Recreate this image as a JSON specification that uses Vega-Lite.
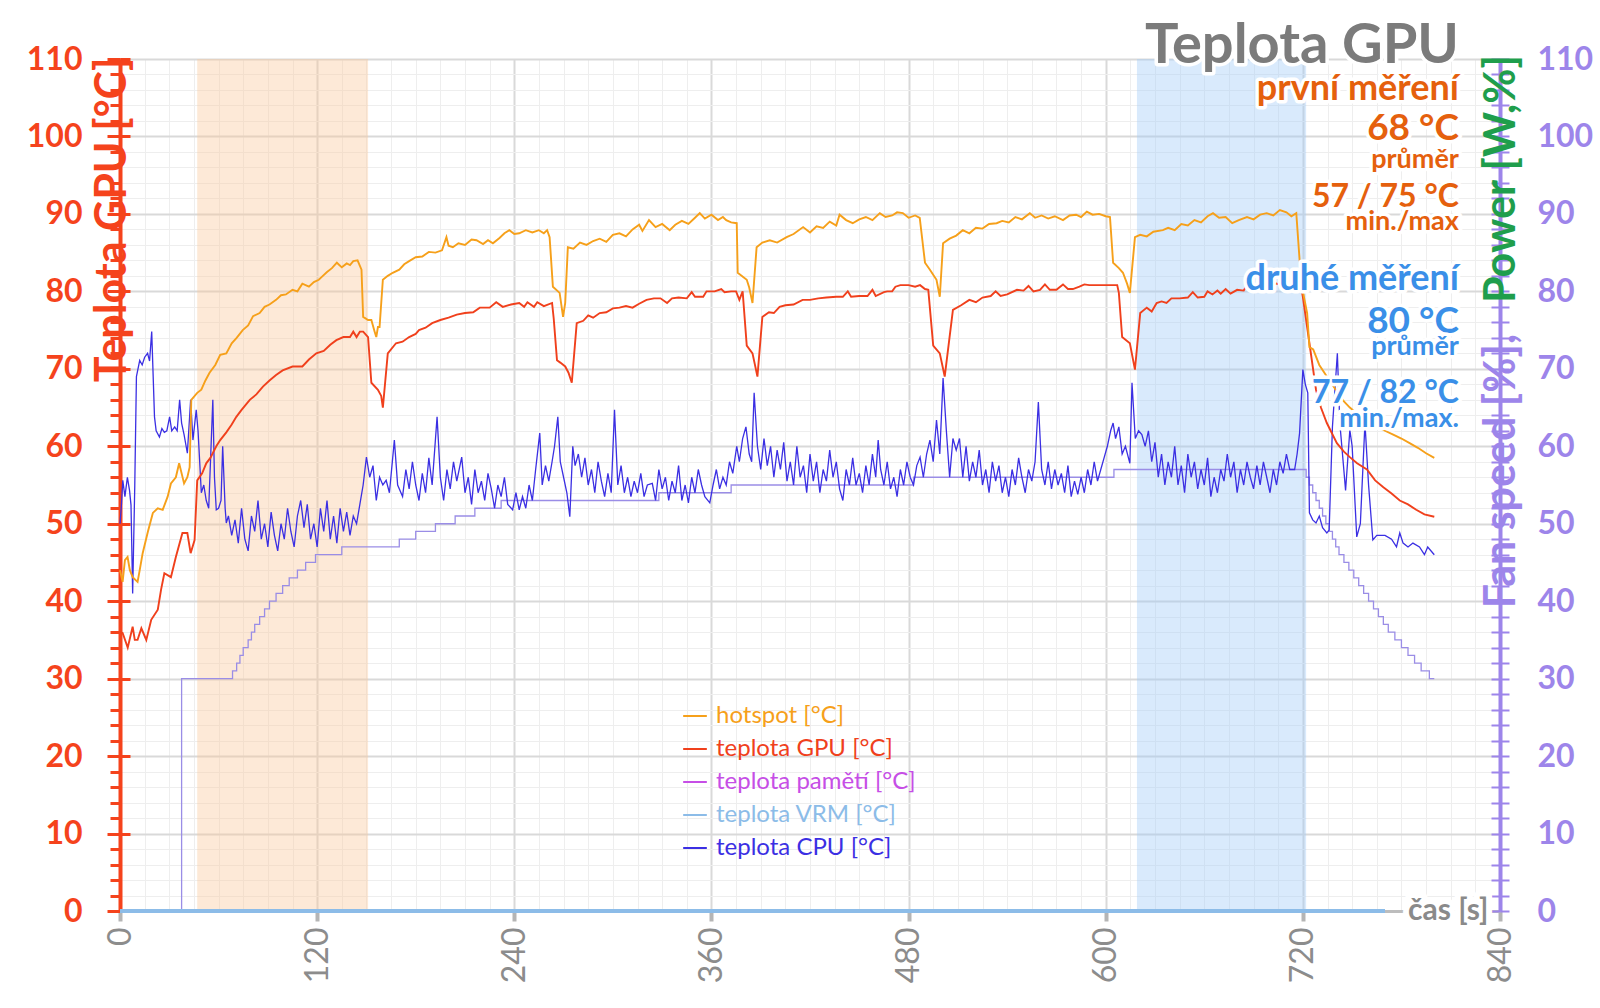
{
  "$schema": "https://vega.github.io/schema/vega-lite/v6.json",
  "width": 1380,
  "height": 852,
  "autosize": {"type": "none"},
  "padding": {"left": 120, "top": 59, "right": 100, "bottom": 97},
  "background": "white",
  "config": {
    "view": {"stroke": null},
    "font": "Lato",
    "text": {"align": "right", "baseline": "alphabetic", "font": "Lato", "fontWeight": "bold"},
    "style": {"halo": {"fill": "white", "stroke": "white", "strokeWidth": 7, "strokeJoin": "round"}}
  },
  "datasets": {
    "bands": [
      {"start": 47, "end": 151, "band": "první měření"},
      {"start": 619, "end": 722, "band": "druhé měření"}
    ],
    "hotspot": [
      {"t":0,"v":44},{"t":1.6,"v":42.5},{"t":3,"v":45.3},{"t":4.6,"v":45.7},{"t":6,"v":44},{"t":7.7,"v":43.1},{"t":10.7,"v":42.5},{"t":12,"v":44},{"t":13.8,"v":46.2},{"t":17,"v":49},{"t":20,"v":51.4},{"t":23,"v":52},{"t":26,"v":51.8},{"t":29,"v":53.5},{"t":31,"v":55.2},{"t":34,"v":56},{"t":36,"v":57.8},{"t":39,"v":55.2},{"t":41,"v":56},{"t":42.4,"v":57.3},{"t":43.4,"v":66},{"t":47,"v":66.9},{"t":49.5,"v":67.3},{"t":52,"v":68.5},{"t":54.5,"v":69.5},{"t":58,"v":70.5},{"t":61,"v":71.8},{"t":64.7,"v":72},{"t":68,"v":73.3},{"t":71,"v":74},{"t":74.7,"v":75},{"t":78,"v":75.6},{"t":81,"v":76.8},{"t":85,"v":77.2},{"t":88,"v":78},{"t":91,"v":78.3},{"t":95,"v":78.9},{"t":98,"v":79.5},{"t":101,"v":79.6},{"t":105,"v":80.2},{"t":108,"v":80},{"t":111,"v":81},{"t":115,"v":80.6},{"t":118,"v":81.2},{"t":121,"v":81.5},{"t":123,"v":81.9},{"t":126,"v":82.5},{"t":129,"v":83},{"t":132,"v":83.7},{"t":135,"v":83.1},{"t":138,"v":83.6},{"t":140,"v":83.4},{"t":142,"v":83.9},{"t":144.6,"v":84},{"t":147,"v":82.8},{"t":148,"v":76.7},{"t":151,"v":76.3},{"t":153,"v":76.3},{"t":155,"v":74.8},{"t":156,"v":74.1},{"t":157,"v":75.4},{"t":158,"v":75.4},{"t":160,"v":81.5},{"t":163,"v":82},{"t":166,"v":82.4},{"t":170,"v":82.8},{"t":173,"v":83.5},{"t":176,"v":83.9},{"t":180,"v":84.4},{"t":184,"v":84.5},{"t":188,"v":85.1},{"t":192,"v":85},{"t":196,"v":85.3},{"t":198.7,"v":87},{"t":200,"v":85.9},{"t":202.6,"v":85.7},{"t":206,"v":86.2},{"t":210,"v":86},{"t":214,"v":86.7},{"t":217,"v":86.6},{"t":221,"v":86.1},{"t":224,"v":86.6},{"t":227,"v":86.2},{"t":231,"v":86.9},{"t":234,"v":87.5},{"t":237,"v":87.9},{"t":240,"v":87.4},{"t":243,"v":87.5},{"t":247,"v":87.9},{"t":251,"v":87.6},{"t":255,"v":87.9},{"t":258,"v":87.5},{"t":260,"v":87.9},{"t":261.5,"v":87},{"t":263.5,"v":80.6},{"t":267.6,"v":79.8},{"t":269.7,"v":76.7},{"t":271,"v":78.5},{"t":272.6,"v":85.7},{"t":276,"v":85.5},{"t":280,"v":86.3},{"t":284,"v":86},{"t":288,"v":86.5},{"t":292,"v":86.8},{"t":296,"v":86.4},{"t":300,"v":87.3},{"t":304,"v":87.5},{"t":308,"v":87.1},{"t":312,"v":88},{"t":316,"v":88.6},{"t":318,"v":87.8},{"t":322,"v":89.2},{"t":326,"v":88.3},{"t":330,"v":88.7},{"t":334.6,"v":87.9},{"t":338,"v":88.6},{"t":342,"v":89.1},{"t":346,"v":88.7},{"t":350,"v":89.5},{"t":352.9,"v":90.1},{"t":356,"v":89.4},{"t":360,"v":89.9},{"t":364,"v":89.2},{"t":367,"v":89.6},{"t":369,"v":89.2},{"t":372,"v":88.9},{"t":375.4,"v":88.8},{"t":376,"v":82.4},{"t":381.5,"v":81.5},{"t":383,"v":80.5},{"t":385,"v":78.5},{"t":387.5,"v":85.7},{"t":391,"v":86.3},{"t":395.5,"v":86.6},{"t":400,"v":86.3},{"t":405.8,"v":87},{"t":410,"v":87.4},{"t":415.8,"v":88.3},{"t":420,"v":87.6},{"t":424,"v":88.4},{"t":428,"v":88.2},{"t":432,"v":89},{"t":436,"v":88.5},{"t":438,"v":89.9},{"t":442,"v":89.2},{"t":446,"v":88.8},{"t":450,"v":89.3},{"t":454,"v":89.6},{"t":458,"v":89.2},{"t":462.5,"v":90.1},{"t":466,"v":89.6},{"t":470,"v":89.8},{"t":473,"v":90.2},{"t":476.5,"v":90.1},{"t":480,"v":89.5},{"t":484,"v":89.8},{"t":486.8,"v":89.5},{"t":490,"v":83.7},{"t":493,"v":82.8},{"t":497,"v":81.5},{"t":499,"v":79.3},{"t":501,"v":86.2},{"t":505,"v":86.8},{"t":509,"v":87.2},{"t":513,"v":87.9},{"t":517,"v":87.5},{"t":521,"v":88.2},{"t":525,"v":88.1},{"t":529,"v":88.7},{"t":533.6,"v":88.8},{"t":537,"v":89.1},{"t":541,"v":88.9},{"t":545,"v":89.6},{"t":549,"v":89.3},{"t":553.8,"v":90.1},{"t":557,"v":89.5},{"t":561,"v":89.8},{"t":565,"v":89.4},{"t":569,"v":89.7},{"t":574,"v":89.2},{"t":578,"v":89.8},{"t":582,"v":89.9},{"t":585,"v":89.6},{"t":588.5,"v":90.3},{"t":592,"v":89.9},{"t":596,"v":90},{"t":600,"v":89.7},{"t":602.6,"v":89.6},{"t":604.5,"v":83.7},{"t":608,"v":83},{"t":610.5,"v":82.4},{"t":613,"v":81},{"t":614.7,"v":79.8},{"t":617.8,"v":87},{"t":621,"v":87.3},{"t":625,"v":87.1},{"t":629,"v":87.7},{"t":634.8,"v":87.9},{"t":638,"v":88.2},{"t":642,"v":87.9},{"t":646,"v":88.7},{"t":650,"v":88.5},{"t":654,"v":89.2},{"t":658,"v":88.9},{"t":662,"v":89.7},{"t":665.3,"v":90.1},{"t":669,"v":89.5},{"t":673,"v":89.6},{"t":677,"v":88.8},{"t":681,"v":89.2},{"t":686,"v":89.6},{"t":690,"v":89.3},{"t":694,"v":89.9},{"t":698,"v":90.1},{"t":702,"v":89.8},{"t":706,"v":90.5},{"t":710,"v":90.2},{"t":713,"v":89.7},{"t":716,"v":90.1},{"t":718,"v":84.1},{"t":720,"v":80},{"t":722.6,"v":77.2},{"t":724,"v":72.8},{"t":726.3,"v":72.5},{"t":730,"v":70.5},{"t":734.6,"v":69},{"t":740,"v":67.3},{"t":745,"v":65.8},{"t":748.6,"v":65},{"t":754,"v":64},{"t":760,"v":63.2},{"t":765,"v":62.5},{"t":769,"v":62.1},{"t":775,"v":61.5},{"t":780,"v":61},{"t":785,"v":60.4},{"t":790,"v":59.8},{"t":795,"v":59.1},{"t":800,"v":58.5}
    ],
    "gpu": [
      {"t":0,"v":36},{"t":1.6,"v":35.9},{"t":4.7,"v":34},{"t":7.7,"v":36.7},{"t":9,"v":35},{"t":10.7,"v":35},{"t":13,"v":36.5},{"t":16,"v":35},{"t":19,"v":37.6},{"t":23,"v":38.9},{"t":25,"v":41.5},{"t":27,"v":43.6},{"t":31,"v":43.1},{"t":34,"v":45.7},{"t":38,"v":48.8},{"t":41,"v":48.8},{"t":43,"v":46.2},{"t":45.4,"v":47.9},{"t":47,"v":55.6},{"t":50,"v":56.5},{"t":52.5,"v":57.8},{"t":55,"v":58.5},{"t":58.6,"v":60},{"t":61,"v":60.8},{"t":64.7,"v":61.8},{"t":68,"v":62.8},{"t":70.8,"v":63.8},{"t":74,"v":64.7},{"t":79,"v":66},{"t":83,"v":66.7},{"t":87,"v":67.7},{"t":91,"v":68.5},{"t":95,"v":69.2},{"t":99,"v":69.8},{"t":105,"v":70.3},{"t":111,"v":70.3},{"t":115,"v":71.2},{"t":119.5,"v":72},{"t":124,"v":72.3},{"t":128,"v":73.1},{"t":131.7,"v":73.7},{"t":136,"v":74.1},{"t":140,"v":74.1},{"t":142,"v":74.8},{"t":144,"v":74.1},{"t":146,"v":74.8},{"t":148,"v":74.8},{"t":151,"v":74.1},{"t":153,"v":68.2},{"t":157,"v":67.3},{"t":159,"v":66.5},{"t":160,"v":65},{"t":163,"v":72},{"t":168,"v":73.3},{"t":172,"v":73.5},{"t":176,"v":74.1},{"t":180,"v":74.5},{"t":182,"v":75},{"t":186,"v":75.3},{"t":190,"v":75.9},{"t":195,"v":76.3},{"t":200,"v":76.6},{"t":205,"v":77},{"t":210,"v":77.2},{"t":215,"v":77.3},{"t":219,"v":77.9},{"t":225,"v":77.9},{"t":229,"v":78.6},{"t":233,"v":78},{"t":238,"v":78.3},{"t":243,"v":78.5},{"t":246,"v":78},{"t":248,"v":78.6},{"t":252,"v":78},{"t":254,"v":78.6},{"t":258,"v":78.1},{"t":263,"v":78.5},{"t":264,"v":76.5},{"t":266,"v":71.1},{"t":268,"v":70.8},{"t":271,"v":70.3},{"t":273,"v":69.5},{"t":275,"v":68.2},{"t":278,"v":75.9},{"t":282,"v":76.2},{"t":285,"v":76.9},{"t":288,"v":76.6},{"t":292,"v":77.2},{"t":296,"v":77.3},{"t":300,"v":77.8},{"t":304,"v":77.9},{"t":308,"v":78.1},{"t":312,"v":77.9},{"t":316,"v":78.4},{"t":320.5,"v":78.9},{"t":325,"v":79.1},{"t":329,"v":79.1},{"t":333,"v":78.5},{"t":336,"v":79.1},{"t":340,"v":79.2},{"t":345,"v":79.1},{"t":348,"v":79.9},{"t":350,"v":79.3},{"t":355,"v":79.3},{"t":357,"v":80},{"t":362,"v":80},{"t":366,"v":80.3},{"t":368,"v":79.9},{"t":372,"v":80},{"t":375,"v":80},{"t":377,"v":78.9},{"t":379,"v":80},{"t":381.5,"v":73},{"t":385,"v":72},{"t":388,"v":69},{"t":391,"v":76.7},{"t":395,"v":77.3},{"t":398,"v":77.2},{"t":401.5,"v":78},{"t":405,"v":78.2},{"t":410,"v":78.3},{"t":415.5,"v":78.9},{"t":420,"v":78.9},{"t":425,"v":79.1},{"t":430,"v":79.2},{"t":436,"v":79.3},{"t":440,"v":79.3},{"t":443,"v":80},{"t":445,"v":79.3},{"t":450,"v":79.4},{"t":455,"v":79.4},{"t":458,"v":80.2},{"t":460,"v":79.4},{"t":465,"v":79.9},{"t":467,"v":80},{"t":470,"v":80},{"t":472,"v":80.6},{"t":475,"v":80.8},{"t":480,"v":80.8},{"t":484,"v":80.6},{"t":487,"v":80.8},{"t":490,"v":80.3},{"t":492,"v":80.2},{"t":495,"v":73},{"t":499,"v":72},{"t":502,"v":69},{"t":507,"v":77.6},{"t":512,"v":78.2},{"t":517,"v":78.9},{"t":521,"v":78.6},{"t":525,"v":79.2},{"t":530,"v":79.4},{"t":533,"v":80},{"t":536,"v":79.4},{"t":540,"v":79.6},{"t":546,"v":80.2},{"t":550,"v":80.1},{"t":553,"v":80.7},{"t":556,"v":80},{"t":560,"v":80.2},{"t":563,"v":80.9},{"t":566,"v":80.2},{"t":570,"v":80.2},{"t":574,"v":80.9},{"t":577,"v":80.3},{"t":580,"v":80.3},{"t":584,"v":80.6},{"t":587,"v":80.9},{"t":590,"v":80.8},{"t":595,"v":80.8},{"t":600,"v":80.8},{"t":607,"v":80.8},{"t":608,"v":79.8},{"t":610,"v":74.1},{"t":614.7,"v":73.3},{"t":617.8,"v":69.9},{"t":621,"v":77.2},{"t":625,"v":77.9},{"t":628,"v":77.4},{"t":631,"v":78.5},{"t":634,"v":78.7},{"t":637,"v":78.5},{"t":640,"v":79.1},{"t":645,"v":79.1},{"t":650,"v":79.2},{"t":653,"v":79.9},{"t":656,"v":79.2},{"t":660,"v":79.3},{"t":662,"v":80},{"t":665,"v":79.6},{"t":668,"v":80.1},{"t":670,"v":79.7},{"t":673,"v":80.3},{"t":676,"v":79.7},{"t":680,"v":80.2},{"t":684,"v":80.1},{"t":686,"v":80.8},{"t":690,"v":80.5},{"t":694,"v":80.8},{"t":697,"v":80.4},{"t":700,"v":80.7},{"t":704,"v":81},{"t":708,"v":80.7},{"t":712,"v":80.9},{"t":716,"v":80.6},{"t":719,"v":80.5},{"t":720,"v":79.3},{"t":724,"v":73.3},{"t":728,"v":67.3},{"t":731,"v":65},{"t":734.6,"v":63},{"t":740.7,"v":60.4},{"t":745,"v":59.3},{"t":748.6,"v":58.6},{"t":753,"v":57.8},{"t":759,"v":57},{"t":764,"v":55.6},{"t":769,"v":54.7},{"t":774,"v":53.9},{"t":779,"v":53},{"t":784,"v":52.5},{"t":789,"v":51.8},{"t":794,"v":51.2},{"t":800,"v":50.9}
    ],
    "cpu": [
      {"t":0,"v":50},{"t":0.8,"v":52.2},{"t":1.7,"v":55.6},{"t":3,"v":53.5},{"t":4.5,"v":56},{"t":5.8,"v":54.3},{"t":6.7,"v":52.4},{"t":7.7,"v":41},{"t":9,"v":55},{"t":10,"v":69},{"t":12,"v":71.1},{"t":13.5,"v":70.5},{"t":15,"v":71.5},{"t":16.8,"v":72},{"t":18,"v":71},{"t":19.3,"v":74.8},{"t":21,"v":63.8},{"t":22,"v":62},{"t":24,"v":61.2},{"t":25.5,"v":62.3},{"t":27,"v":61.8},{"t":28.5,"v":62},{"t":30.2,"v":63.8},{"t":31.5,"v":62},{"t":33.3,"v":62.5},{"t":34.8,"v":62},{"t":36.3,"v":66},{"t":37.5,"v":63},{"t":39,"v":61.5},{"t":41,"v":59.1},{"t":43,"v":66},{"t":44.4,"v":60.8},{"t":46.4,"v":64.7},{"t":47.5,"v":62},{"t":49.5,"v":54},{"t":51,"v":55},{"t":52.5,"v":53},{"t":54,"v":52},{"t":56.5,"v":66},{"t":57.5,"v":56},{"t":58.6,"v":51.8},{"t":60,"v":52},{"t":61.5,"v":53},{"t":62.5,"v":60},{"t":64,"v":52},{"t":64.7,"v":50.1},
      {"t":66,"v":51},{"t":68,"v":48.5},{"t":70,"v":50.5},{"t":72,"v":47.5},{"t":74,"v":52},{"t":76,"v":48},{"t":78,"v":46.5},{"t":80,"v":51},{"t":82,"v":49},{"t":84,"v":53},{"t":86,"v":48},{"t":88,"v":50},{"t":90,"v":47},{"t":92,"v":51.5},{"t":94,"v":48.5},{"t":96,"v":46.5},{"t":98,"v":50},{"t":100,"v":48},{"t":102,"v":52},{"t":104,"v":49},{"t":106,"v":47},{"t":108,"v":51},{"t":110,"v":53},{"t":112,"v":49.5},{"t":114,"v":52.5},{"t":116,"v":48},{"t":118,"v":50},{"t":120,"v":47},{"t":122,"v":52},{"t":124,"v":49},{"t":126,"v":53},{"t":128,"v":48},{"t":130,"v":51},{"t":132,"v":47.5},{"t":134,"v":52},{"t":136,"v":49},{"t":138,"v":51.5},{"t":140,"v":48.5},{"t":142,"v":51},{"t":144,"v":50},{"t":146,"v":52.5},{"t":148,"v":55},{"t":150,"v":58.6},{"t":152,"v":56},{"t":154,"v":57.5},{"t":156,"v":53},{"t":158,"v":56},{"t":160,"v":55},{"t":162,"v":55.6},{"t":164,"v":54},{"t":167,"v":60.8},{"t":169,"v":55},{"t":172,"v":53.5},{"t":174,"v":57},{"t":176,"v":54.5},{"t":178,"v":58},{"t":180,"v":55},{"t":182,"v":53},{"t":184,"v":56.5},{"t":186,"v":54},{"t":188,"v":58.5},{"t":190,"v":55},{"t":193,"v":63.8},{"t":195,"v":56},{"t":197,"v":53},{"t":199,"v":57},{"t":201,"v":54.5},{"t":203,"v":58},{"t":205,"v":55.5},{"t":208,"v":58.6},{"t":210,"v":54},{"t":212,"v":56},{"t":214,"v":52.5},{"t":216,"v":57},{"t":218,"v":54},{"t":220,"v":55.5},{"t":222,"v":53},{"t":224,"v":56.5},{"t":226,"v":54.5},{"t":228,"v":52},{"t":230,"v":55},{"t":232,"v":53.5},{"t":234,"v":56},{"t":236,"v":52.5},{"t":239,"v":51.8},{"t":241,"v":54},{"t":243,"v":51.8},{"t":245,"v":53.5},{"t":247,"v":52},{"t":249,"v":55},{"t":251,"v":53},{"t":253,"v":57},{"t":255.5,"v":61.7},{"t":257,"v":55},{"t":259,"v":57.5},{"t":261,"v":55.5},{"t":263,"v":58},{"t":264.5,"v":60},{"t":266.5,"v":63.8},{"t":268,"v":58},{"t":270,"v":56},{"t":272,"v":54},{"t":273.8,"v":50.9},{"t":275.6,"v":60},{"t":277,"v":57.5},{"t":279,"v":59},{"t":281,"v":56},{"t":283,"v":58.5},{"t":285,"v":55},{"t":287,"v":57},{"t":289,"v":54},{"t":291,"v":58},{"t":293,"v":55.5},{"t":295,"v":53.5},{"t":297,"v":56.5},{"t":299,"v":54},{"t":301,"v":64.7},{"t":303,"v":55},{"t":305,"v":57.5},{"t":307,"v":54},{"t":309,"v":56},{"t":311,"v":53.5},{"t":313,"v":55.5},{"t":315,"v":54},{"t":317,"v":56.5},{"t":319,"v":53.5},{"t":321,"v":55},{"t":324,"v":55.2},{"t":326,"v":53},{"t":328,"v":57},{"t":330,"v":54.5},{"t":332,"v":56},{"t":334,"v":53},{"t":336,"v":55.5},{"t":338,"v":54},{"t":340,"v":57.5},{"t":342,"v":53},{"t":344,"v":55},{"t":346,"v":52.7},{"t":348,"v":56},{"t":350,"v":54},{"t":352,"v":57},{"t":354,"v":55},{"t":356,"v":53.5},{"t":359,"v":52.7},{"t":361,"v":55},{"t":363,"v":57},{"t":365,"v":54.5},{"t":367,"v":56},{"t":369,"v":55},{"t":371,"v":58},{"t":373,"v":56.5},{"t":375.4,"v":60},{"t":377,"v":58},{"t":379,"v":61},{"t":381,"v":62.5},{"t":383,"v":59},{"t":384.5,"v":58},{"t":386,"v":66.9},{"t":388,"v":60},{"t":390,"v":57},{"t":392,"v":61},{"t":394,"v":57.5},{"t":396,"v":60},{"t":398,"v":56},{"t":400,"v":59.5},{"t":402,"v":57},{"t":404,"v":60.5},{"t":406,"v":55.5},{"t":408,"v":58},{"t":410,"v":55},{"t":412,"v":60},{"t":414,"v":56},{"t":416,"v":57.5},{"t":418,"v":54},{"t":420,"v":59},{"t":422,"v":55.5},{"t":424,"v":58},{"t":426,"v":54},{"t":428,"v":57},{"t":430,"v":55.5},{"t":432,"v":59.5},{"t":434,"v":56},{"t":436,"v":58},{"t":438,"v":54.5},{"t":440,"v":53},{"t":442,"v":57},{"t":444,"v":55},{"t":446,"v":58.5},{"t":448,"v":55},{"t":450,"v":56.5},{"t":452,"v":54},{"t":454,"v":57.5},{"t":456,"v":55},{"t":458,"v":59},{"t":460,"v":56},{"t":461.5,"v":60.8},{"t":463,"v":57},{"t":465,"v":55},{"t":467,"v":58},{"t":469,"v":54.5},{"t":471,"v":56},{"t":473,"v":53.5},{"t":475,"v":57},{"t":477,"v":55},{"t":479,"v":58},{"t":481,"v":56},{"t":483,"v":55},{"t":485,"v":57.5},{"t":487,"v":58.6},{"t":489,"v":56},{"t":491,"v":59},{"t":493,"v":60.8},{"t":495,"v":58},{"t":497,"v":63.4},{"t":499,"v":59},{"t":501,"v":68.8},{"t":503,"v":62},{"t":505,"v":56},{"t":507,"v":61},{"t":509,"v":59.5},{"t":511,"v":61},{"t":513,"v":56},{"t":515,"v":60},{"t":517,"v":55.5},{"t":519,"v":58},{"t":521,"v":56},{"t":523,"v":59.5},{"t":525,"v":55},{"t":527,"v":57},{"t":529,"v":54},{"t":531,"v":58},{"t":533,"v":55.5},{"t":535,"v":57.5},{"t":537,"v":54},{"t":539,"v":56},{"t":541,"v":53.5},{"t":543,"v":57},{"t":545,"v":55},{"t":547,"v":58.5},{"t":549,"v":56},{"t":551,"v":54},{"t":553,"v":57},{"t":555,"v":55.5},{"t":557,"v":58},{"t":559,"v":65.7},{"t":561,"v":57},{"t":563,"v":55},{"t":565,"v":58},{"t":567,"v":54.5},{"t":569,"v":57},{"t":571,"v":55},{"t":573,"v":56.5},{"t":575,"v":54},{"t":577,"v":57.5},{"t":579,"v":53.5},{"t":581,"v":55.5},{"t":583,"v":53.8},{"t":585,"v":56},{"t":587,"v":54},{"t":589,"v":57},{"t":591,"v":55},{"t":593,"v":58},{"t":595,"v":55.5},{"t":597,"v":57},{"t":599,"v":58.5},{"t":601,"v":60},{"t":603,"v":62},{"t":604.5,"v":63},{"t":606,"v":61},{"t":608,"v":62.5},{"t":610,"v":59},{"t":612,"v":60},{"t":614.7,"v":57.8},{"t":616,"v":68.2},{"t":618,"v":61},{"t":620,"v":62},{"t":622,"v":61.5},{"t":624,"v":60},{"t":626,"v":62},{"t":628,"v":58},{"t":630,"v":60.5},{"t":632,"v":56},{"t":634,"v":59},{"t":636,"v":55},{"t":638,"v":58},{"t":640,"v":56},{"t":642,"v":60},{"t":644,"v":55},{"t":646,"v":57.5},{"t":648,"v":54},{"t":650,"v":59},{"t":652,"v":56},{"t":654,"v":58},{"t":656,"v":54.5},{"t":658,"v":57},{"t":660,"v":55},{"t":662,"v":58.5},{"t":664,"v":53.5},{"t":666,"v":56},{"t":668,"v":54},{"t":670,"v":57},{"t":672,"v":55.5},{"t":674,"v":59},{"t":676,"v":56},{"t":678,"v":58},{"t":680,"v":54},{"t":682,"v":57},{"t":684,"v":55},{"t":686,"v":58},{"t":688,"v":56},{"t":690,"v":54.5},{"t":692,"v":57.5},{"t":694,"v":55},{"t":696,"v":58},{"t":698,"v":56},{"t":700,"v":54},{"t":702,"v":57},{"t":704,"v":55},{"t":706,"v":58},{"t":708,"v":56.5},{"t":710,"v":59},{"t":712,"v":57},{"t":715,"v":57},{"t":716.5,"v":59},{"t":718,"v":61.7},{"t":720,"v":69.9},{"t":721.5,"v":68},{"t":723,"v":66.9},{"t":724,"v":51.4},{"t":726,"v":50.5},{"t":728,"v":50.1},{"t":730,"v":51},{"t":732,"v":49.5},{"t":734.6,"v":48.8},{"t":736,"v":49.2},{"t":738,"v":62.5},{"t":741,"v":72},{"t":742.5,"v":63},{"t":744.6,"v":57.8},{"t":746,"v":54.3},{"t":748.6,"v":62.1},{"t":750,"v":60},{"t":752.8,"v":48.3},{"t":755,"v":50},{"t":757.8,"v":63},{"t":760,"v":55},{"t":762.6,"v":47.9},{"t":765,"v":48.5},{"t":770,"v":48.5},{"t":774,"v":48},{"t":777,"v":47},{"t":779,"v":48.8},{"t":781,"v":47.5},{"t":784,"v":47},{"t":787,"v":47.5},{"t":791,"v":47},{"t":794,"v":46},{"t":796,"v":47},{"t":800,"v":46}
    ],
    "vrm": [{"t": 0, "v": 0}, {"t": 770, "v": 0}],
    "fan": [
      {"t":0,"v":0},{"t":37.5,"v":30},{"t":68.5,"v":31},{"t":71,"v":32},{"t":73,"v":33},{"t":75,"v":34},{"t":78,"v":35},{"t":80,"v":36},{"t":82,"v":37},{"t":85,"v":38},{"t":88,"v":39},{"t":91,"v":40},{"t":95,"v":41},{"t":99,"v":42},{"t":103,"v":43},{"t":108,"v":44},{"t":113,"v":45},{"t":119,"v":46},{"t":135,"v":47},{"t":170,"v":48},{"t":180,"v":49},{"t":192,"v":50},{"t":204,"v":51},{"t":216,"v":52},{"t":232,"v":53},{"t":328,"v":54},{"t":372,"v":55},{"t":483,"v":56},{"t":605,"v":57},{"t":722,"v":56},{"t":724,"v":55},{"t":726,"v":54},{"t":728,"v":53},{"t":730,"v":52},{"t":732,"v":51},{"t":734,"v":50},{"t":736,"v":49},{"t":738,"v":48},{"t":740,"v":47},{"t":742,"v":46},{"t":745,"v":45},{"t":748,"v":44},{"t":751,"v":43},{"t":754,"v":42},{"t":757,"v":41},{"t":760,"v":40},{"t":763,"v":39},{"t":766,"v":38},{"t":769,"v":37},{"t":772,"v":36},{"t":776,"v":35},{"t":780,"v":34},{"t":784,"v":33},{"t":788,"v":32},{"t":792,"v":31},{"t":797,"v":30},{"t":800,"v":30}
    ]
  },
  "resolve": {"axis": {"x": "independent", "y": "independent"}},
  "layer": [
    {
      "data": {"name": "bands"},
      "mark": {"type": "rect", "opacity": 0.4},
      "encoding": {
        "x": {"field": "start", "type": "quantitative", "axis": null, "scale": {"domain": [0, 840], "nice": false, "zero": false}},
        "x2": {"field": "end"},
        "fill": {"field": "band", "type": "nominal", "scale": {"domain": ["první měření", "druhé měření"], "range": ["#fac89b", "#a0caf7"]}, "legend": null}
      }
    },
    {
      "data": {"name": "fan"},
      "mark": {"type": "line", "interpolate": "step-after", "color": "#9a8de6", "strokeWidth": 1.3},
      "encoding": {
        "x": {"field": "t", "type": "quantitative", "axis": null},
        "y": {"field": "v", "type": "quantitative", "scale": {"domain": [0, 110], "nice": false},
          "axis": {"orient": "right", "values": [0,2,4,6,8,10,12,14,16,18,20,22,24,26,28,30,32,34,36,38,40,42,44,46,48,50,52,54,56,58,60,62,64,66,68,70,72,74,76,78,80,82,84,86,88,90,92,94,96,98,100,102,104,106,108,110],
            "labelExpr": "datum.value % 10 === 0 ? datum.label : ''", "grid": false,
            "domainColor": "#9d85ea", "domainWidth": 4, "tickColor": "#9d85ea", "tickSize": 9, "tickWidth": 2,
            "labelColor": "#9d85ea", "labelFont": "Lato", "labelFontSize": 32, "labelFontWeight": "bold", "labelPadding": 28,
            "labelOverlap": false, "labelBound": false, "labelFlush": false, "title": null}}
      }
    },
    {
      "data": {"name": "vrm"},
      "mark": {"type": "line", "strokeWidth": 4},
      "encoding": {
        "x": {"field": "t", "type": "quantitative", "axis": null},
        "y": {"field": "v", "type": "quantitative",
          "axis": {"orient": "right", "values": [0,2,4,6,8,10,12,14,16,18,20,22,24,26,28,30,32,34,36,38,40,42,44,46,48,50,52,54,56,58,60,62,64,66,68,70,72,74,76,78,80,82,84,86,88,90,92,94,96,98,100,102,104,106,108,110],
            "tickSize": -9, "tickColor": "#9d85ea", "tickWidth": 2, "labels": false, "domain": false, "grid": false, "title": null}},
        "color": {"datum": "teplota VRM [°C]", "type": "nominal"}
      }
    },
    {
      "data": {"name": "cpu"},
      "mark": {"type": "line", "strokeWidth": 1.3},
      "encoding": {
        "x": {"field": "t", "type": "quantitative", "axis": null},
        "y": {"field": "v", "type": "quantitative",
          "axis": {"orient": "left", "values": [0,10,20,30,40,50,60,70,80,90,100,110], "tickSize": -10, "tickColor": "#f5431c", "tickWidth": 3, "labels": false, "domain": false, "grid": false, "title": null}},
        "color": {"datum": "teplota CPU [°C]", "type": "nominal"}
      }
    },
    {
      "data": {"name": "gpu"},
      "mark": {"type": "line", "strokeWidth": 1.9},
      "encoding": {
        "x": {"field": "t", "type": "quantitative", "axis": null},
        "y": {"field": "v", "type": "quantitative",
          "axis": {"orient": "left", "values": [0,10,20,30,40,50,60,70,80,90,100,110], "tickSize": 13, "tickColor": "#f5431c", "tickWidth": 3, "labels": false, "domain": false, "grid": false, "title": null}},
        "color": {"datum": "teplota GPU [°C]", "type": "nominal"}
      }
    },
    {
      "data": {"name": "hotspot"},
      "mark": {"type": "line", "strokeWidth": 1.9},
      "encoding": {
        "x": {"field": "t", "type": "quantitative",
          "axis": {"orient": "bottom", "values": [0,15,30,45,60,75,90,105,120,135,150,165,180,195,210,225,240,255,270,285,300,315,330,345,360,375,390,405,420,435,450,465,480,495,510,525,540,555,570,585,600,615,630,645,660,675,690,705,720,735,750,765,780,795,810,825,840],
            "labelExpr": "datum.value % 120 === 0 ? datum.label : ''",
            "grid": true,
            "gridColor": {"condition": {"test": "datum.value % 120 === 0", "value": "#d9d9d9"}, "value": "#eeeeee"},
            "gridWidth": {"condition": {"test": "datum.value % 120 === 0", "value": 2}, "value": 1},
            "domainColor": "#bdbdbd", "domainWidth": 3,
            "tickColor": {"condition": {"test": "datum.value % 120 === 0", "value": "#b5b5b5"}, "value": "transparent"},
            "tickSize": 10, "tickWidth": 4,
            "labelAngle": 270, "labelColor": "#8c8c8c", "labelFont": "Lato", "labelFontSize": 32, "labelPadding": 6,
            "labelOverlap": false, "labelBound": false, "labelFlush": false, "title": null}},
        "y": {"field": "v", "type": "quantitative",
          "axis": {"orient": "left", "values": [0,2,4,6,8,10,12,14,16,18,20,22,24,26,28,30,32,34,36,38,40,42,44,46,48,50,52,54,56,58,60,62,64,66,68,70,72,74,76,78,80,82,84,86,88,90,92,94,96,98,100,102,104,106,108,110],
            "labelExpr": "datum.value % 10 === 0 ? datum.label : ''",
            "grid": true,
            "gridColor": {"condition": {"test": "datum.value % 10 === 0", "value": "#d9d9d9"}, "value": "#eeeeee"},
            "gridWidth": {"condition": {"test": "datum.value % 10 === 0", "value": 2}, "value": 1},
            "domainColor": "#f5431c", "domainWidth": 4, "tickColor": "#f5431c", "tickSize": 10, "tickWidth": 3,
            "labelColor": "#f5431c", "labelFont": "Lato", "labelFontSize": 32, "labelFontWeight": "bold", "labelPadding": 28,
            "labelOverlap": false, "labelBound": false, "labelFlush": false,
            "title": "Teplota GPU [°C]", "titleColor": "#f5431c", "titleFont": "Lato", "titleFontSize": 43, "titleFontWeight": "bold",
            "titleAngle": 270, "titleAlign": "right", "titleBaseline": "alphabetic", "titleX": 5, "titleY": -2}},
        "color": {"datum": "hotspot [°C]", "type": "nominal",
          "scale": {"domain": ["hotspot [°C]", "teplota GPU [°C]", "teplota pamětí [°C]", "teplota VRM [°C]", "teplota CPU [°C]"],
                    "range": ["#f6a01a", "#f0401c", "#c64ee6", "#8cbce8", "#3b2fe3"]},
          "legend": {"orient": "none", "legendX": 562, "legendY": 644, "title": null, "symbolType": "stroke", "symbolSize": 560, "symbolStrokeWidth": 2,
            "labelFont": "Lato", "labelFontSize": 24, "labelOffset": 8, "rowPadding": 8, "labelLimit": 400,
            "encode": {"labels": {"update": {"fill": {"scale": "color", "field": "value"}}}}}}
      }
    },
    {
      "data": {"values": [{}]},
      "encoding": {"x": {"datum": 833, "type": "quantitative", "axis": null}, "y": {"datum": 0, "type": "quantitative", "axis": null}, "text": {"value": "čas [s]"}},
      "layer": [
        {"mark": {"type": "text", "style": "halo", "strokeWidth": 12, "fontSize": 30, "baseline": "middle"}},
        {"mark": {"type": "text", "fontSize": 30, "baseline": "middle", "fill": "#8a8a8a"}}
      ]
    },
    {
      "data": {"values": [{}]},
      "encoding": {"x": {"datum": 815, "type": "quantitative", "axis": null}, "y": {"datum": 109.5, "type": "quantitative", "axis": null}, "text": {"value": "Teplota GPU"}},
      "layer": [
        {"mark": {"type": "text", "style": "halo", "fontSize": 56}},
        {"mark": {"type": "text", "fontSize": 56, "fill": "#7b7b7b"}}
      ]
    },
    {
      "data": {"values": [{}]},
      "encoding": {"x": {"datum": 815, "type": "quantitative", "axis": null}, "y": {"datum": 104.7, "type": "quantitative", "axis": null}, "text": {"value": "první měření"}},
      "layer": [
        {"mark": {"type": "text", "style": "halo", "fontSize": 36}},
        {"mark": {"type": "text", "fontSize": 36, "fill": "#e5600d"}}
      ]
    },
    {
      "data": {"values": [{}]},
      "encoding": {"x": {"datum": 815, "type": "quantitative", "axis": null}, "y": {"datum": 99.5, "type": "quantitative", "axis": null}, "text": {"value": "68 °C"}},
      "layer": [
        {"mark": {"type": "text", "style": "halo", "fontSize": 37}},
        {"mark": {"type": "text", "fontSize": 37, "fill": "#e5600d"}}
      ]
    },
    {
      "data": {"values": [{}]},
      "encoding": {"x": {"datum": 815, "type": "quantitative", "axis": null}, "y": {"datum": 95.9, "type": "quantitative", "axis": null}, "text": {"value": "průměr"}},
      "layer": [
        {"mark": {"type": "text", "style": "halo", "fontSize": 27}},
        {"mark": {"type": "text", "fontSize": 27, "fill": "#e5600d"}}
      ]
    },
    {
      "data": {"values": [{}]},
      "encoding": {"x": {"datum": 815, "type": "quantitative", "axis": null}, "y": {"datum": 90.9, "type": "quantitative", "axis": null}, "text": {"value": "57 / 75 °C"}},
      "layer": [
        {"mark": {"type": "text", "style": "halo", "fontSize": 32}},
        {"mark": {"type": "text", "fontSize": 32, "fill": "#e5600d"}}
      ]
    },
    {
      "data": {"values": [{}]},
      "encoding": {"x": {"datum": 815, "type": "quantitative", "axis": null}, "y": {"datum": 87.9, "type": "quantitative", "axis": null}, "text": {"value": "min./max"}},
      "layer": [
        {"mark": {"type": "text", "style": "halo", "fontSize": 27}},
        {"mark": {"type": "text", "fontSize": 27, "fill": "#e5600d"}}
      ]
    },
    {
      "data": {"values": [{}]},
      "encoding": {"x": {"datum": 815, "type": "quantitative", "axis": null}, "y": {"datum": 80.2, "type": "quantitative", "axis": null}, "text": {"value": "druhé měření"}},
      "layer": [
        {"mark": {"type": "text", "style": "halo", "fontSize": 36}},
        {"mark": {"type": "text", "fontSize": 36, "fill": "#3a8fe8"}}
      ]
    },
    {
      "data": {"values": [{}]},
      "encoding": {"x": {"datum": 815, "type": "quantitative", "axis": null}, "y": {"datum": 74.6, "type": "quantitative", "axis": null}, "text": {"value": "80 °C"}},
      "layer": [
        {"mark": {"type": "text", "style": "halo", "fontSize": 37}},
        {"mark": {"type": "text", "fontSize": 37, "fill": "#3a8fe8"}}
      ]
    },
    {
      "data": {"values": [{}]},
      "encoding": {"x": {"datum": 815, "type": "quantitative", "axis": null}, "y": {"datum": 71.8, "type": "quantitative", "axis": null}, "text": {"value": "průměr"}},
      "layer": [
        {"mark": {"type": "text", "style": "halo", "fontSize": 27}},
        {"mark": {"type": "text", "fontSize": 27, "fill": "#3a8fe8"}}
      ]
    },
    {
      "data": {"values": [{}]},
      "encoding": {"x": {"datum": 815, "type": "quantitative", "axis": null}, "y": {"datum": 65.6, "type": "quantitative", "axis": null}, "text": {"value": "77 / 82 °C"}},
      "layer": [
        {"mark": {"type": "text", "style": "halo", "fontSize": 32}},
        {"mark": {"type": "text", "fontSize": 32, "fill": "#3a8fe8"}}
      ]
    },
    {
      "data": {"values": [{}]},
      "encoding": {"x": {"datum": 815, "type": "quantitative", "axis": null}, "y": {"datum": 62.5, "type": "quantitative", "axis": null}, "text": {"value": "min./max."}},
      "layer": [
        {"mark": {"type": "text", "style": "halo", "fontSize": 27}},
        {"mark": {"type": "text", "fontSize": 27, "fill": "#3a8fe8"}}
      ]
    },
    {
      "data": {"values": [{}]},
      "mark": {"type": "text", "angle": 270, "align": "right", "fontSize": 43, "fill": "#1f9e4c"},
      "encoding": {"x": {"datum": 849, "type": "quantitative", "axis": null}, "y": {"datum": 110.5, "type": "quantitative", "axis": null}, "text": {"value": "Power [W,%]"}}
    },
    {
      "data": {"values": [{}]},
      "mark": {"type": "text", "angle": 270, "align": "right", "fontSize": 43, "fill": "#9d85ea"},
      "encoding": {"x": {"datum": 849, "type": "quantitative", "axis": null}, "y": {"datum": 74.5, "type": "quantitative", "axis": null}, "text": {"value": "Fan speed [%],"}}
    }
  ]
}
